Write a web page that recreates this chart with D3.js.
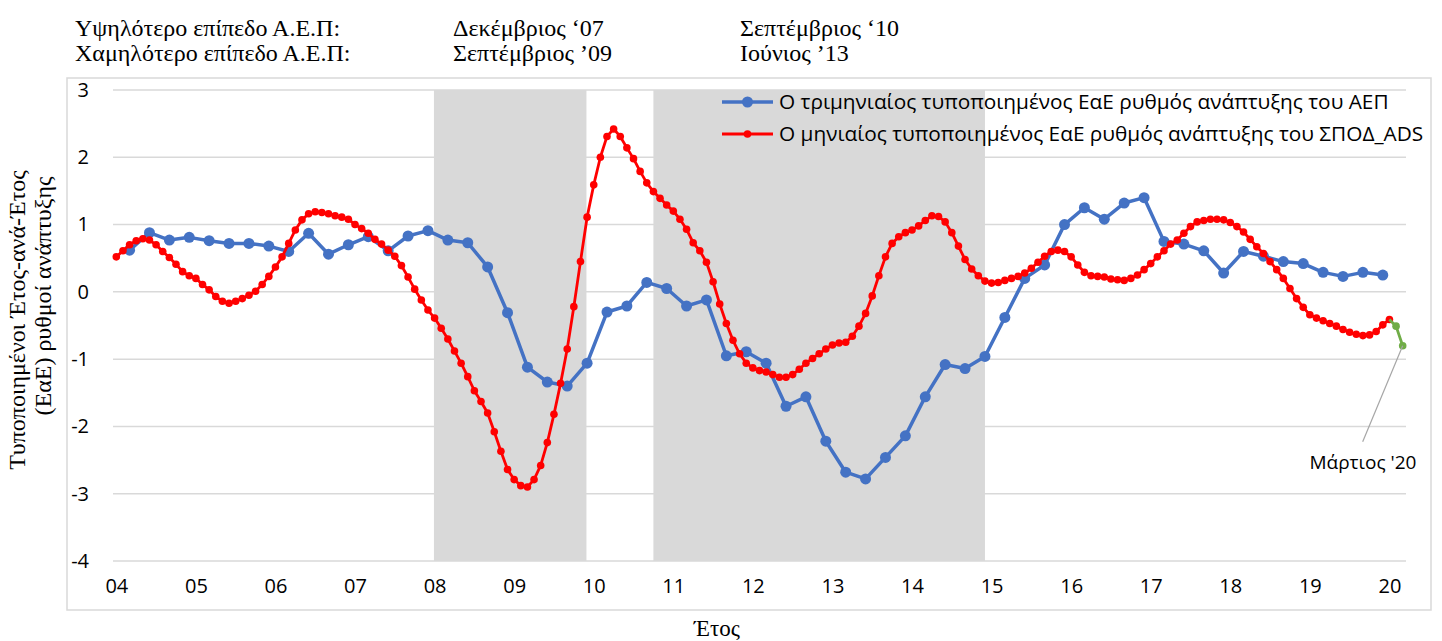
<!DOCTYPE html>
<html>
<head>
<meta charset="utf-8">
<script src="https://cdn.jsdelivr.net/npm/d3@7"></script>
<style>
  body { margin: 0; background: #fff; }
  .tick text { font-family: "Open Sans", sans-serif; fill: #000; }
</style>
</head>
<body>
<div class="chart"></div>
<script>
// year labels on the x axis (one per January, starting Jan 2004)
const yearLabels = ["04","05","06","07","08","09","10","11","12","13","14","15","16","17","18","19","20"];

// quarterly standardised YoY GDP growth (Mar 2004 .. Dec 2019)
const gdpQuarterly = [
  0.62,0.88,0.77,0.81,0.76,0.72,0.72,0.68,0.60,0.87,
  0.56,0.70,0.82,0.61,0.83,0.91,0.77,0.73,0.37,-0.31,
  -1.12,-1.34,-1.40,-1.06,-0.30,-0.21,0.14,0.05,-0.21,-0.12,
  -0.95,-0.89,-1.06,-1.70,-1.56,-2.22,-2.68,-2.78,-2.46,-2.14,
  -1.56,-1.08,-1.14,-0.96,-0.38,0.20,0.40,1.00,1.25,1.08,
  1.32,1.40,0.75,0.71,0.61,0.28,0.60,0.53,0.45,0.42,
  0.29,0.23,0.29,0.25
];

// monthly standardised YoY growth of ADS index (Jan 2004 .. Jan 2020)
const adsMonthly = [
  0.52,0.61,0.70,0.76,0.79,0.77,0.70,0.60,0.51,0.41,0.30,0.24,
  0.20,0.11,0.03,-0.07,-0.14,-0.17,-0.14,-0.10,-0.05,0.01,0.11,0.23,
  0.37,0.52,0.72,0.92,1.07,1.16,1.19,1.18,1.16,1.13,1.11,1.08,
  1.00,0.94,0.87,0.78,0.71,0.62,0.53,0.39,0.22,0.04,-0.12,-0.27,
  -0.39,-0.54,-0.70,-0.88,-1.06,-1.26,-1.47,-1.63,-1.80,-2.08,-2.37,-2.64,
  -2.79,-2.88,-2.90,-2.79,-2.58,-2.24,-1.82,-1.36,-0.85,-0.22,0.45,1.11,
  1.59,2.00,2.31,2.42,2.31,2.14,1.98,1.79,1.62,1.49,1.39,1.29,
  1.20,1.08,0.93,0.73,0.61,0.44,0.15,-0.18,-0.47,-0.72,-0.92,-1.06,
  -1.13,-1.17,-1.19,-1.23,-1.27,-1.27,-1.23,-1.15,-1.06,-0.99,-0.92,-0.85,
  -0.79,-0.76,-0.75,-0.66,-0.51,-0.32,-0.06,0.24,0.52,0.72,0.82,0.88,
  0.92,0.98,1.06,1.13,1.12,1.04,0.88,0.68,0.48,0.34,0.24,0.16,
  0.13,0.14,0.17,0.20,0.23,0.28,0.35,0.44,0.53,0.60,0.62,0.60,
  0.52,0.40,0.29,0.24,0.23,0.22,0.19,0.18,0.17,0.20,0.25,0.33,
  0.42,0.52,0.61,0.71,0.77,0.87,0.97,1.04,1.06,1.08,1.08,1.07,
  1.03,0.97,0.89,0.78,0.67,0.57,0.45,0.33,0.20,0.05,-0.10,-0.23,
  -0.34,-0.39,-0.43,-0.47,-0.51,-0.56,-0.60,-0.63,-0.65,-0.64,-0.59,-0.49,
  -0.41
];

// latest months (Jan, Feb, Mar 2020) drawn in green
const adsLatest = [-0.41, -0.51, -0.80];

// shaded periods, in months from Jan 2004
const shadeFrom = [47.9, 81.0];
const shadeTo = [70.9, 131.0];

const yTicks = [3, 2, 1, 0, -1, -2, -3, -4];

const headerRows = [
  ["Υψηλότερο επίπεδο Α.Ε.Π:", "Δεκέμβριος ‘07", "Σεπτέμβριος ‘10"],
  ["Χαμηλότερο επίπεδο Α.Ε.Π:", "Σεπτέμβριος ’09", "Ιούνιος ’13"]
];
const legendNames = [
  "Ο τριμηνιαίος τυποποιημένος ΕαΕ ρυθμός ανάπτυξης του ΑΕΠ",
  "Ο μηνιαίος τυποποιημένος ΕαΕ ρυθμός ανάπτυξης του ΣΠΟΔ_ADS"
];

const W = 1442, H = 641;
const plot = {left: 113, right: 1406, top: 90, bottom: 561};
const nMonths = 195;

const svg = d3.select(".chart").append("svg")
    .attr("width", W)
    .attr("height", H);

const x = d3.scaleLinear()
    .domain([-0.5, nMonths - 0.5])
    .range([plot.left, plot.right]);
const y = d3.scaleLinear()
    .domain([-4, 3])
    .range([plot.bottom, plot.top]);

// outer chart border
svg.append("rect")
    .attr("x", 67).attr("y", 78)
    .attr("width", 1364).attr("height", 532)
    .attr("fill", "none")
    .attr("stroke", "#d9d9d9")
    .attr("stroke-width", 1.5);

// header text
const serif = "'Liberation Serif', serif";
const colX = [75, 453, 740];
headerRows.forEach(function(row, r){
    row.forEach(function(t, c){
        svg.append("text")
            .attr("x", colX[c])
            .attr("y", 36 + r * 25)
            .attr("font-family", serif)
            .attr("font-size", 24)
            .text(t);
    });
});

// shaded periods
svg.selectAll(".shade")
    .data(shadeFrom)
    .enter()
    .append("rect")
    .attr("class", "shade")
    .attr("x", function(d){ return x(d); })
    .attr("width", function(d, i){ return x(shadeTo[i]) - x(d); })
    .attr("y", y(3))
    .attr("height", y(-4) - y(3))
    .attr("fill", "#d9d9d9");

// gridlines
svg.append("g")
    .selectAll("line")
    .data(yTicks)
    .enter()
    .append("line")
    .attr("x1", plot.left).attr("x2", plot.right)
    .attr("y1", function(d){ return y(d); })
    .attr("y2", function(d){ return y(d); })
    .attr("stroke", "#d9d9d9")
    .attr("stroke-width", 1.5);

// y axis labels
const yAxis = svg.append("g")
    .attr("transform", "translate(" + plot.left + ",0)")
    .call(d3.axisLeft(y)
        .tickValues(yTicks)
        .tickFormat(function(d){ return String(d); })
        .tickSize(0)
        .tickPadding(24));
yAxis.select(".domain").remove();
yAxis.selectAll("text").attr("font-size", 20);

// x axis labels
const xAxis = svg.append("g")
    .attr("transform", "translate(0," + plot.bottom + ")")
    .call(d3.axisBottom(x)
        .tickValues(yearLabels.map(function(d, i){ return i * 12; }))
        .tickFormat(function(d){ return yearLabels[d / 12]; })
        .tickSize(0)
        .tickPadding(18));
xAxis.select(".domain").remove();
xAxis.selectAll("text").attr("font-size", 20);

// axis titles
svg.append("text")
    .attr("transform", "translate(25,320) rotate(-90)")
    .attr("text-anchor", "middle")
    .attr("font-family", serif)
    .attr("font-size", 24)
    .text("Τυποποιημένοι Έτος-ανά-Έτος");
svg.append("text")
    .attr("transform", "translate(51,296) rotate(-90)")
    .attr("text-anchor", "middle")
    .attr("font-family", serif)
    .attr("font-size", 24)
    .text("(ΕαΕ) ρυθμοί ανάπτυξης");
svg.append("text")
    .attr("x", 717).attr("y", 636)
    .attr("text-anchor", "middle")
    .attr("font-family", serif)
    .attr("font-size", 23)
    .text("Έτος");

// series
const line = d3.line()
    .x(function(d){ return x(d.m); })
    .y(function(d){ return y(d.v); });

const gdp = gdpQuarterly.map(function(v, i){ return {m: 2 + i * 3, v: v}; });
const ads = adsMonthly.map(function(v, i){ return {m: i, v: v}; });
const latest = adsLatest.map(function(v, i){ return {m: adsMonthly.length - 1 + i, v: v}; });

function drawSeries(data, color, width, r, skipFirstDot){
    svg.append("path")
        .datum(data)
        .attr("d", line)
        .attr("fill", "none")
        .attr("stroke", color)
        .attr("stroke-width", width)
        .attr("stroke-linejoin", "round");
    svg.append("g")
        .selectAll("circle")
        .data(skipFirstDot ? data.slice(1) : data)
        .enter()
        .append("circle")
        .attr("cx", function(d){ return x(d.m); })
        .attr("cy", function(d){ return y(d.v); })
        .attr("r", r)
        .attr("fill", color);
}

drawSeries(gdp, "#4472c4", 3.5, 5.5, false);
drawSeries(ads, "#ff0000", 2.8, 3.8, false);
drawSeries(latest, "#70ad47", 2.8, 3.8, true);

// annotation for the last point
const last = latest[latest.length - 1];
svg.append("line")
    .attr("x1", x(last.m)).attr("y1", y(last.v))
    .attr("x2", x(last.m) - 40).attr("y2", y(last.v) + 96)
    .attr("stroke", "#a6a6a6")
    .attr("stroke-width", 1.2);
svg.append("text")
    .attr("x", 1363).attr("y", 469)
    .attr("text-anchor", "middle")
    .attr("font-family", "'Open Sans', sans-serif")
    .attr("font-size", 19)
    .text("Μάρτιος '20");

// legend
const legendColors = ["#4472c4", "#ff0000"];
const legendR = [5.5, 3.8];
const legendW = [3.5, 2.8];
const legend = svg.append("g").attr("transform", "translate(722,102)");
legendNames.forEach(function(name, i){
    const g = legend.append("g").attr("transform", "translate(0," + i * 32 + ")");
    g.append("line")
        .attr("x1", 0).attr("x2", 51)
        .attr("stroke", legendColors[i])
        .attr("stroke-width", legendW[i]);
    g.append("circle")
        .attr("cx", 25.5)
        .attr("r", legendR[i])
        .attr("fill", legendColors[i]);
    g.append("text")
        .attr("x", 57)
        .attr("dy", "0.35em")
        .attr("font-family", "'Open Sans', sans-serif")
        .attr("font-size", 20.8)
        .text(name);
});
</script>
</body>
</html>
